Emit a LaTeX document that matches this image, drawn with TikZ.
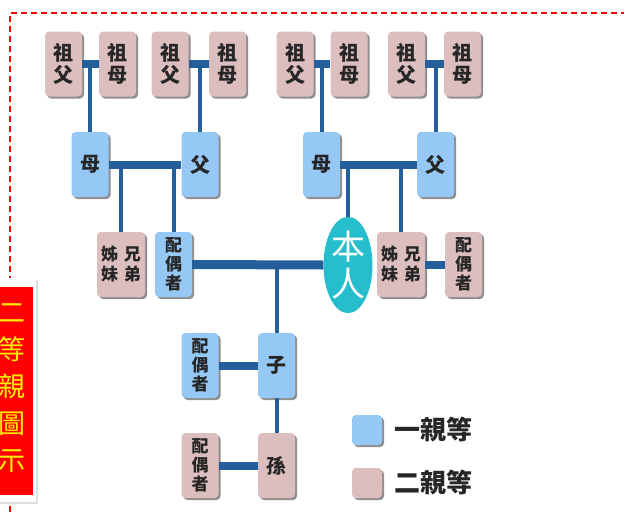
\documentclass[tikz,border=0pt]{standalone}
\usepackage{fontspec}
\setmainfont{Noto Sans CJK TC}
\usetikzlibrary{shapes.geometric,shadows,positioning}
\definecolor{kinblue}{RGB}{150,200,245}
\definecolor{kinpink}{RGB}{221,190,190}
\definecolor{linkblue}{RGB}{36,94,155}
\definecolor{selfcyan}{RGB}{38,190,205}
\definecolor{framered}{RGB}{255,0,0}
\definecolor{titleyellow}{RGB}{255,240,0}

\begin{document}
\begin{tikzpicture}[x=1pt,y=-1pt,
  kinbox/.style={rounded corners=4pt, align=center, inner sep=0pt,
    minimum width=37pt, minimum height=65pt, text=black!85,
    font=\fontsize{20}{22}\selectfont\bfseries,
    drop shadow={shadow xshift=2pt, shadow yshift=-2pt, opacity=0.55, fill=black!80}},
  onebox/.style={kinbox, fill=kinblue},
  twobox/.style={kinbox, fill=kinpink},
  widebox/.style={minimum width=48pt, font=\fontsize{17}{20}\selectfont\bfseries},
  smalltext/.style={font=\fontsize{17}{19}\selectfont\bfseries},
  link/.style={draw=linkblue, line width=8pt},
  stem/.style={draw=linkblue, line width=4pt},
  keybox/.style={rounded corners=4pt, minimum width=30pt, minimum height=30pt, inner sep=0pt,
    drop shadow={shadow xshift=2pt, shadow yshift=-2pt, opacity=0.55, fill=black!80}},
  keytext/.style={anchor=west, inner sep=0pt, text=black!85, font=\fontsize{26}{26}\selectfont\bfseries}
]
\useasboundingbox (0,0) rectangle (624,512);

% frame
\draw[framered, line width=1.2pt, dash pattern=on 6pt off 4pt] (10,512) -- (10,13) -- (626,13);

% grandparents
\node[twobox] (gf1) at (63.5,64)  {祖\\父};
\node[twobox] (gm1) at (117.5,64) {祖\\母};
\node[twobox] (gf2) at (170,64)   {祖\\父};
\node[twobox] (gm2) at (227.5,64) {祖\\母};
\node[twobox] (gf3) at (295,64)   {祖\\父};
\node[twobox] (gm3) at (349,64)   {祖\\母};
\node[twobox] (gf4) at (406.5,64) {祖\\父};
\node[twobox] (gm4) at (462.5,64) {祖\\母};

% parents
\node[onebox] (m1) at (90,164.5)    {母};
\node[onebox] (f1) at (200,164.5)   {父};
\node[onebox] (m2) at (321.5,164.5) {母};
\node[onebox] (f2) at (435.5,164.5) {父};

% own generation
\node[twobox, widebox] (sib1) at (121,264.5) {姊\hspace{6pt}兄\\妹\hspace{6pt}弟};
\node[onebox, smalltext] (sp1) at (173.5,264.5) {配\\偶\\者};
\node[ellipse, fill=selfcyan, minimum width=49pt, minimum height=96pt, inner sep=0pt,
      align=center, text=white, font=\fontsize{34}{37}\selectfont] (self) at (348,265) {本\\人};
\node[twobox, widebox] (sib2) at (401,264.5) {姊\hspace{6pt}兄\\妹\hspace{6pt}弟};
\node[twobox, smalltext] (sp2) at (463.5,264.5) {配\\偶\\者};

% descendants
\node[onebox] (child) at (276.5,365.5) {子};
\node[onebox, smalltext] (csp) at (200,365.5) {配\\偶\\者};
\node[twobox] (grand) at (276.5,465.5) {孫};
\node[twobox, smalltext] (gsp) at (200,465.5) {配\\偶\\者};

% couples and lines of descent
\foreach \a/\b/\c in {gf1/gm1/m1, gf2/gm2/f1, gf3/gm3/m2, gf4/gm4/f2}{
  \path[link] (\a.east) -- (\b.west);
  \path[stem] (\c.north |- \a.east) -- (\c.north);
}
\path[link] (m1.east) -- (f1.west);
\path[link] (m2.east) -- (f2.west);
\path[stem] (sib1.north |- m1.east) -- (sib1.north);
\path[stem] (sp1.north |- m1.east) -- (sp1.north);
\path[stem] (self.north |- m2.east) -- (self.north);
\path[stem] (sib2.north |- m2.east) -- (sib2.north);
\path[link, line width=9pt] (sp1.east) -- (self.west);
\path[link] (sib2.east) -- (sp2.west);
\path[stem] (child.north |- sp1.east) -- (child.north);
\path[link] (csp.east) -- (child.west);
\path[stem] (child.south) -- (grand.north);
\path[link] (gsp.east) -- (grand.west);

% legend
\node[keybox, fill=kinblue] (key1) at (367,430) {};
\node[keytext, right=12pt of key1] (key1t) {一親等};
\node[keybox, fill=kinpink] (key2) at (367,483) {};
\node[keytext, right=12pt of key2] (key2t) {二親等};

% title tab
\node[fill=white, minimum width=38pt, minimum height=224pt, inner sep=0pt,
      drop shadow={shadow xshift=1.5pt, shadow yshift=-1.5pt, opacity=0.25}] (tabback) at (17,390) {};
\node[fill=framered, minimum width=33pt, minimum height=208pt, inner sep=0pt] (tab) at (16.5,391) {};
\node[text=titleyellow, align=center, font=\fontsize{27}{37}\selectfont] (title) at (12,388) {二\\等\\親\\圖\\示};
\end{tikzpicture}
\end{document}
